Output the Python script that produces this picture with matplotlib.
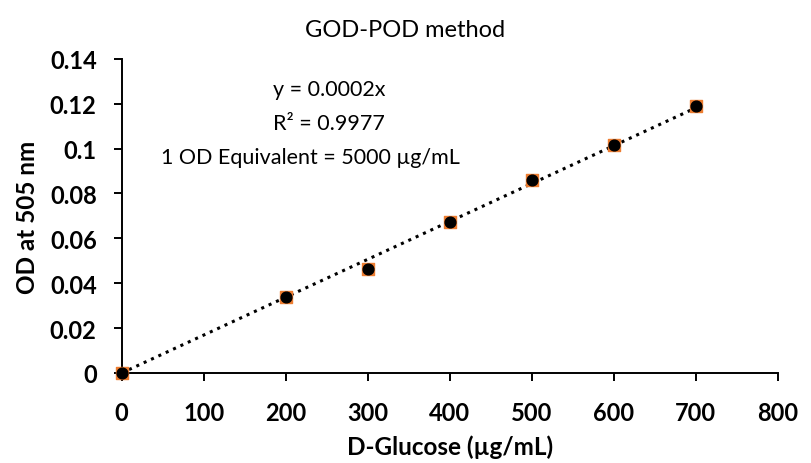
import numpy as np
from matplotlib import pyplot as plt

plt.rcParams.update({'font.family': ['Lato', 'DejaVu Sans'], 'font.size': 15})

# D-Glucose standard curve (GOD-POD)
glucose = [0, 200, 300, 400, 500, 600, 700]
od = [0.0, 0.0337, 0.0463, 0.0672, 0.0858, 0.1018, 0.1188]

x = np.array(glucose)
y = np.array(od)
slope = np.sum(x * y) / np.sum(x * x)   # linear trend forced through origin

fig = plt.figure(figsize=(8.11, 4.64), dpi=100)
ax = fig.add_axes([0.150, 0.194, 0.809, 0.677])

ax.plot(x, slope * x, ':', color='black', lw=2.2, zorder=2)
ax.scatter(x, y, marker='s', s=75, color='#ED7D31', zorder=3)
ax.scatter(x, y, marker='o', s=60, color='black', zorder=4)

ax.set_xlim(0, 800)
ax.set_ylim(0, 0.14)
ax.set_xticks(np.arange(0, 801, 100))
ax.set_yticks(np.arange(0, 0.141, 0.02))
ax.set_yticklabels(['0', '0.02', '0.04', '0.06', '0.08', '0.1', '0.12', '0.14'])
for lab in ax.get_xticklabels() + ax.get_yticklabels():
    lab.set_fontweight('bold')
    lab.set_fontsize(17)

ax.spines['top'].set_visible(False)
ax.spines['right'].set_visible(False)
ax.spines['left'].set_linewidth(1.4)
ax.spines['bottom'].set_linewidth(1.4)
ax.tick_params(direction='out', length=6, width=1.4)
ax.tick_params(axis='x', pad=14)
ax.tick_params(axis='y', pad=12)
for c in ax.collections:
    c.set_clip_on(False)

ax.set_xlabel('D-Glucose (µg/mL)', fontweight='bold', fontsize=17.5, labelpad=8)
ax.set_ylabel('OD at 505 nm', fontweight='bold', fontsize=17.5, labelpad=8)
fig.text(0.5, 0.935, 'GOD-POD method', ha='center', va='center', fontsize=17)

ax.text(184, 0.1266, 'y = 0.0002x', ha='left', va='center', fontsize=15.5)
ax.text(184, 0.1115, 'R² = 0.9977', ha='left', va='center', fontsize=15.5)
ax.text(230, 0.0963, '1 OD Equivalent = 5000 µg/mL', ha='center', va='center', fontsize=15.5)

fig.savefig('out.png', dpi=100)
